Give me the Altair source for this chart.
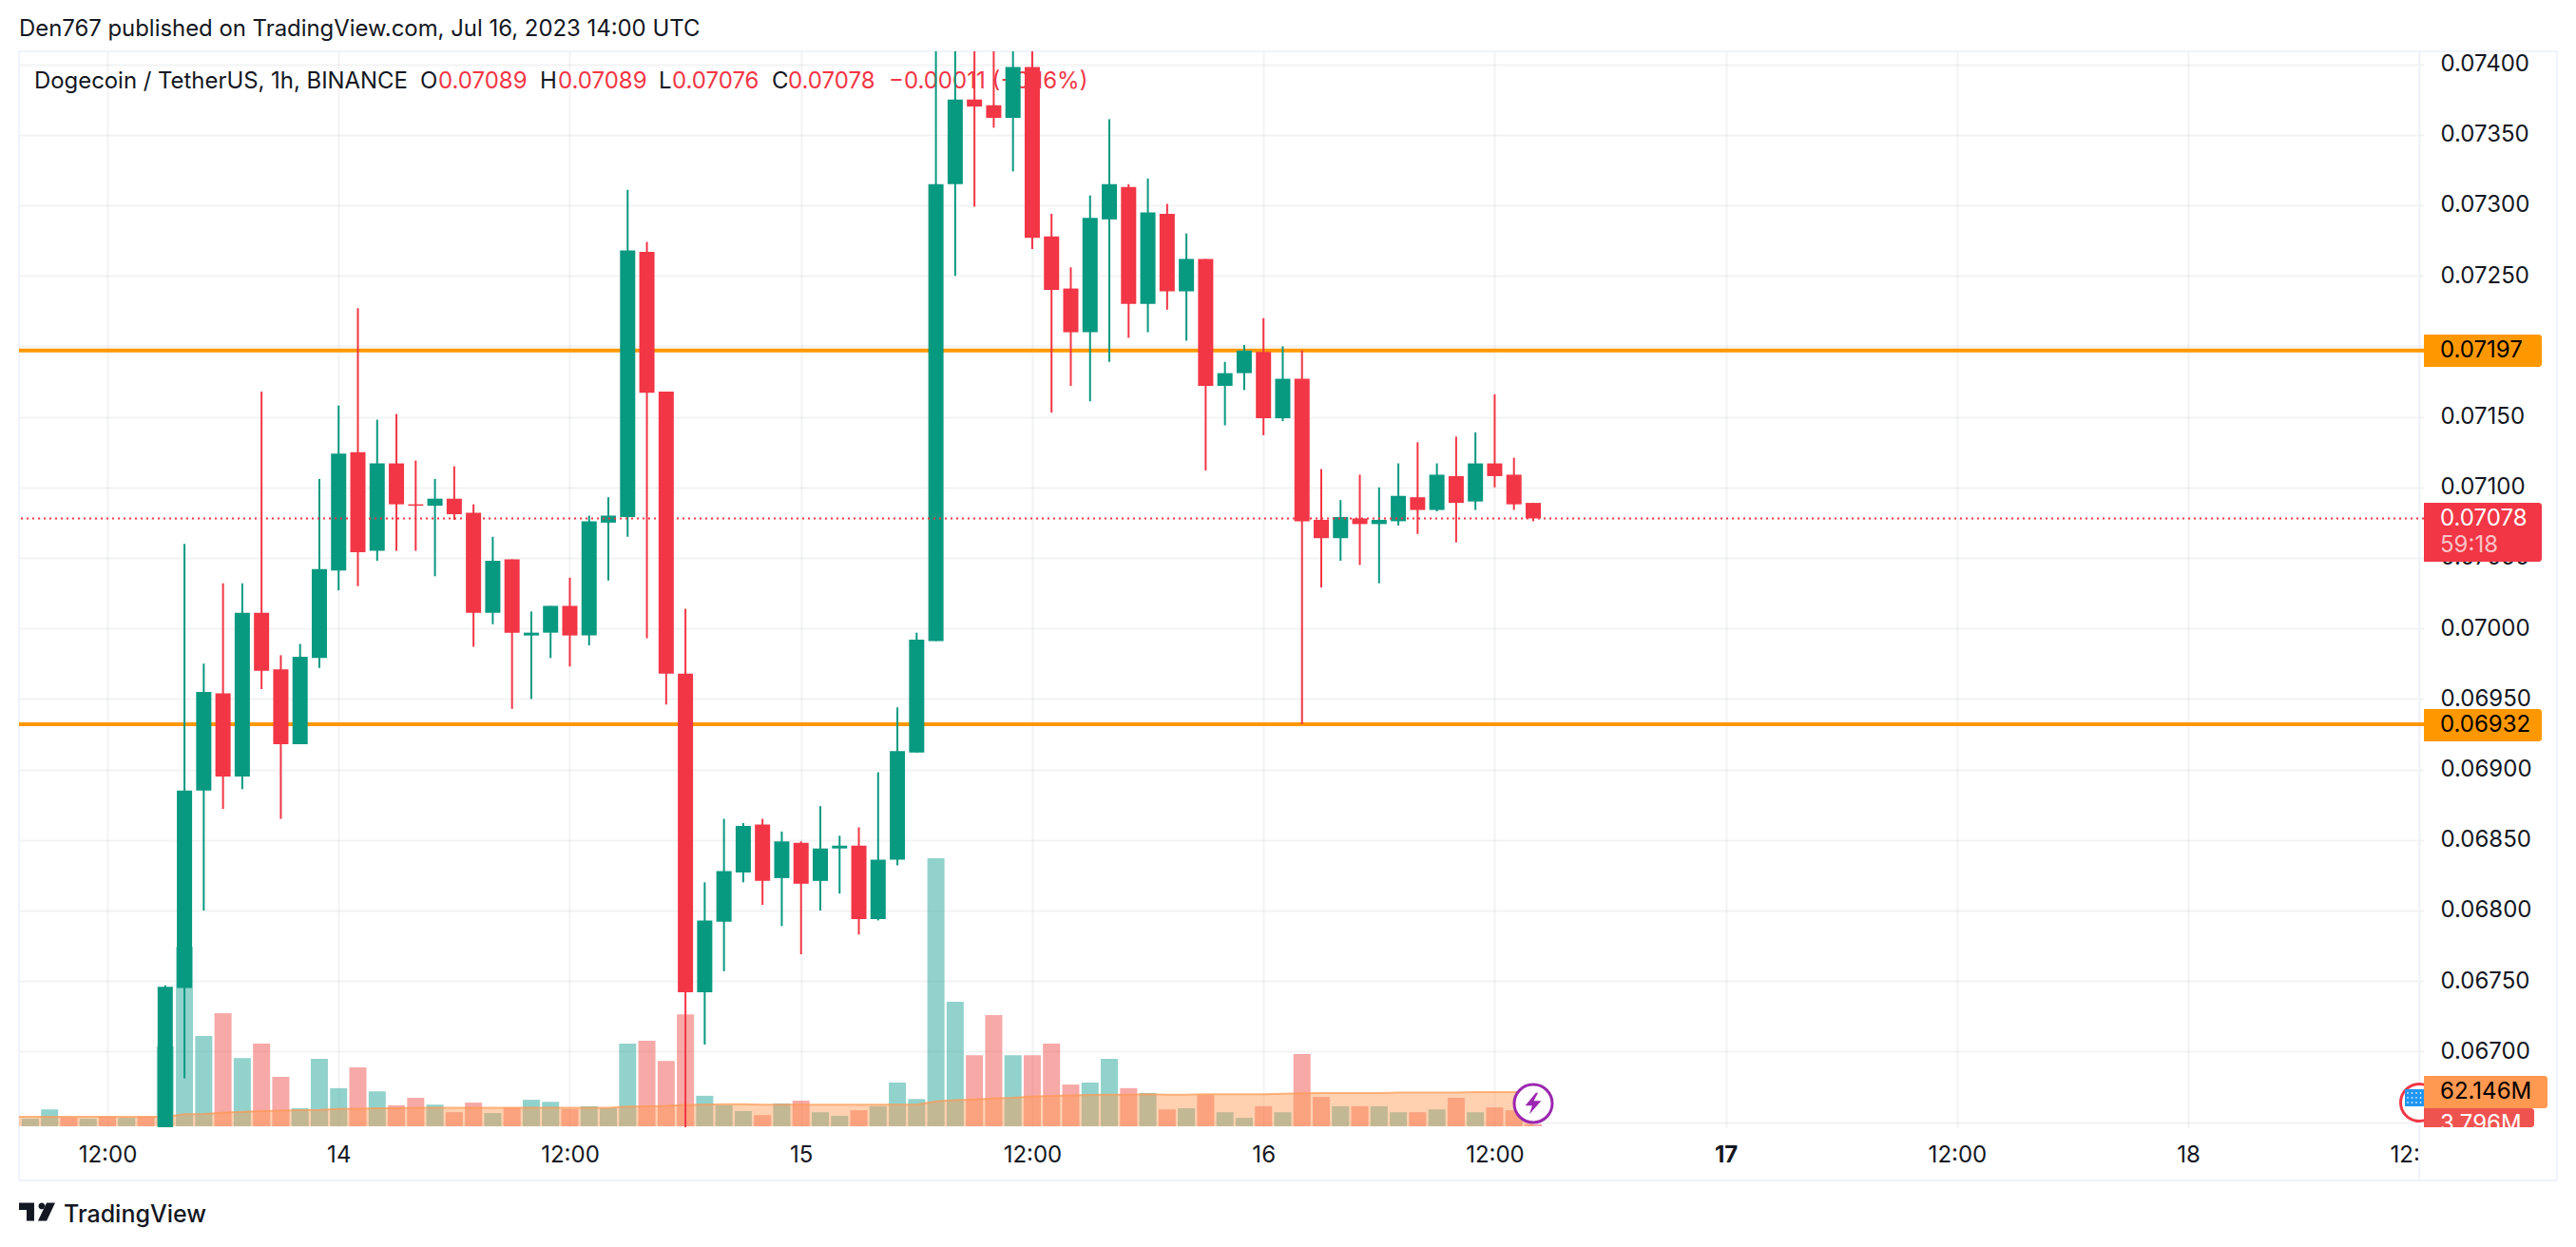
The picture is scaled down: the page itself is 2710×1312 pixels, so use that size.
import altair as alt
import pandas as pd

# ---- data ----------------------------------------------------------------
opens = [0.0655,0.06745,0.06885,0.06954,0.06895,0.07011,0.06971,0.06918,0.06979,0.07041,
         0.07125,0.07055,0.07117,0.07088,0.07087,0.07092,0.07082,0.07011,0.07049,0.06995,
         0.06997,0.07016,0.06995,0.07075,0.07079,0.07267,0.07168,0.06968,0.06742,0.06792,
         0.06827,0.06861,0.06823,0.06848,0.06821,0.06844,0.06846,0.06794,0.06836,0.06912,
         0.06991,0.07315,0.07375,0.07371,0.07362,0.07398,0.07278,0.07241,0.07210,0.07290,
         0.07313,0.07230,0.07294,0.07239,0.07262,0.07172,0.07181,0.07196,0.07149,0.07177,
         0.07077,0.07064,0.07078,0.07074,0.07076,0.07093,0.07084,0.07108,0.07090,0.07117,
         0.07109,0.07089]
highs = [0.06747,0.07060,0.06975,0.07032,0.07032,0.07168,0.06981,0.06989,0.07106,0.07158,
         0.07227,0.07148,0.07152,0.07119,0.07106,0.07115,0.07088,0.07065,0.07049,0.07012,
         0.07016,0.07036,0.07080,0.07093,0.07311,0.07274,0.07168,0.07014,0.06820,0.06865,
         0.06862,0.06865,0.06856,0.06849,0.06874,0.06853,0.06859,0.06898,0.06944,0.06997,
         0.07420,0.07420,0.07420,0.07420,0.07420,0.07420,0.07294,0.07256,0.07307,0.07361,
         0.07315,0.07319,0.07301,0.07280,0.07262,0.07189,0.07201,0.07220,0.07200,0.07197,
         0.07113,0.07091,0.07109,0.07100,0.07117,0.07132,0.07117,0.07136,0.07139,0.07166,
         0.07121,0.07089]
lows = [0.0655,0.06681,0.06800,0.06872,0.06886,0.06957,0.06865,0.06918,0.06972,0.07027,
        0.07030,0.07048,0.07055,0.07055,0.07037,0.07077,0.06987,0.07003,0.06943,0.06950,
        0.06979,0.06973,0.06988,0.07034,0.07065,0.06993,0.06946,0.06640,0.06705,0.06757,
        0.06820,0.06804,0.06789,0.06769,0.06800,0.06812,0.06783,0.06793,0.06832,0.06912,
        0.06991,0.07250,0.07299,0.07355,0.07324,0.07269,0.07153,0.07172,0.07161,0.07189,
        0.07206,0.07210,0.07226,0.07204,0.07112,0.07144,0.07169,0.07137,0.07147,0.06932,
        0.07029,0.07048,0.07045,0.07032,0.07073,0.07067,0.07083,0.07061,0.07084,0.07100,
        0.07084,0.07076]
closes = [0.06746,0.06885,0.06955,0.06895,0.07011,0.06970,0.06918,0.06980,0.07042,0.07124,
          0.07054,0.07117,0.07088,0.07087,0.07092,0.07081,0.07011,0.07048,0.06997,0.06997,
          0.07016,0.06995,0.07076,0.07080,0.07268,0.07167,0.06968,0.06742,0.06793,0.06828,
          0.06860,0.06821,0.06849,0.06819,0.06844,0.06846,0.06794,0.06836,0.06913,0.06992,
          0.07315,0.07375,0.07370,0.07362,0.07398,0.07277,0.07240,0.07210,0.07291,0.07315,
          0.07230,0.07295,0.07239,0.07262,0.07172,0.07181,0.07197,0.07149,0.07177,0.07076,
          0.07064,0.07079,0.07074,0.07077,0.07094,0.07084,0.07109,0.07089,0.07117,0.07108,
          0.07088,0.07078]
first_candle_hour = 3

volumes_m = [13.9,30.7,16.1,13.9,17.5,15.3,17.5,145.3,326.3,164.3,205.9,124.1,150.4,89.8,32.9,
             122.6,69.4,107.3,63.5,38.0,51.8,39.4,25.6,43.1,24.1,34.3,48.2,44.5,31.4,36.5,
             32.9,150.4,155.5,119.0,203.7,55.5,38.0,27.7,20.4,41.6,46.7,25.6,19.0,29.2,36.5,
             79.6,49.6,487.6,226.3,129.2,202.2,129.2,129.2,150.4,75.9,79.6,122.6,69.4,60.6,30.7,
             32.9,56.9,25.6,15.3,36.5,25.6,131.4,53.3,36.5,36.5,36.5,25.6,25.6,30.7,51.8,
             25.6,34.3,29.2,3.8]
first_volume_hour = -4
early_volume_dirs = ["up","up","down","up","down","up","down"]

ma_m = [17.5,17.5,17.5,17.5,17.5,17.5,17.5,17.5,17.5,21.9,22.6,24.8,26.3,27.7,28.5,29.2,29.9,31.4,
        32.1,32.9,32.9,33.6,33.6,33.6,33.6,33.6,33.6,33.6,33.6,33.6,33.6,33.6,35.8,36.5,37.2,38.7,
        39.4,40.2,40.2,39.4,39.4,39.4,39.4,39.4,39.4,39.4,39.4,39.4,45.3,47.5,48.9,50.4,51.8,54.0,
        55.5,56.2,56.9,57.7,57.7,58.4,57.7,57.7,58.4,58.4,58.4,58.4,59.1,59.9,60.6,60.6,60.6,60.6,
        61.3,61.3,61.3,61.3,62.1,62.1,62.1,62.146]
first_ma_hour = -5

levels = [0.07197, 0.06932]
last_price = [0.07078]
price_ticks = [0.0740,0.0735,0.0730,0.0725,0.0720,0.0715,0.0710,0.0705,0.0700,0.0695,0.0690,
               0.0685,0.0680,0.0675,0.0670,0.0665]

# ---- geometry -------------------------------------------------------------
W, H = 2530, 1132
T0 = pd.Timestamp("2023-07-13 12:00", tz="UTC")
MS_H = 3600000
t0ms = int(T0.timestamp() * 1000)
px_per_hour = 20.27
dom_start = t0ms + (20 - 113) / px_per_hour * MS_H
dom_end = t0ms + (2550 - 113) / px_per_hour * MS_H
last_tick = t0ms + 120 * MS_H
x_ticks = [t0ms + h * MS_H for h in range(0, 121, 12)]

P_TOP, P_BOT = 0.0740916, 0.0664636
V_LOW, V_TOP = -1.73, 1955.5


def tstr(h):
    return (T0 + pd.Timedelta(hours=h)).strftime("%Y-%m-%dT%H:%M:%SZ")


def tframe(n, first):
    return [tstr(first + k) for k in range(n)]


candles = pd.DataFrame({"t": tframe(len(opens), first_candle_hour),
                        "o": opens, "h": highs, "l": lows, "c": closes})
candles["dir"] = ["up" if c >= o else "down" for o, c in zip(opens, closes)]
vol = pd.DataFrame({"t": tframe(len(volumes_m), first_volume_hour), "v": volumes_m})
vol["dir"] = early_volume_dirs + list(candles["dir"])
ma = pd.DataFrame({"t": tframe(len(ma_m), first_ma_hour), "m": ma_m})

x_scale = alt.Scale(type="utc", domain=[dom_start, dom_end], padding=0)
y_price = alt.Scale(domain=[P_BOT, P_TOP], nice=False, zero=False)
y_vol = alt.Scale(domain=[V_LOW, V_TOP], nice=False, zero=False)

FONT = "Inter"
INK = "#131722"
RED = "#f23645"
GREEN = "#089981"
ORANGE = "#ff9800"
MA_COL = "#ff9850"
BORDER = "#f0f3fa"

x_axis = alt.Axis(
    values=x_ticks, title=None, domain=False, ticks=False, labelFont=FONT, labelFontSize=24,
    labelColor=INK, labelPadding=17, labelOverlap=False, labelBound=False, labelFlush=False,
    gridColor="#2a2e39", gridOpacity=0.06, gridWidth=2, grid=True,
    labelExpr=f"datum.value >= {last_tick} ? '12:' : utcFormat(datum.value,'%H')=='12' ? '12:00' : utcFormat(datum.value,'%-d')",
    labelAlign={"expr": f"datum.value >= {last_tick} ? 'right' : 'center'"},
    labelFontWeight={"expr": "utcFormat(datum.value,'%d %H')=='17 00' ? 700 : 400"})
X = alt.X("t:T", scale=x_scale, axis=x_axis)

one = pd.DataFrame({"a": [0]})


def label(txt, x, y, size=24, color=INK, weight=400):
    return alt.Chart(one).mark_text(text=txt, font=FONT, fontSize=size, color=color, align="left",
                                    baseline="middle", fontWeight=weight).encode(
        x=alt.value(x), y=alt.value(y))


def box(x, x2, y, y2, color, round_=True):
    kw = {"cornerRadiusTopRight": 3, "cornerRadiusBottomRight": 3} if round_ else {}
    return alt.Chart(one).mark_rect(color=color, **kw).encode(
        x=alt.value(x), x2=alt.value(x2), y=alt.value(y), y2=alt.value(y2))


def border(x, x2, y, y2):
    return alt.Chart(one).mark_rule(color=BORDER, strokeWidth=2).encode(
        x=alt.value(x), x2=alt.value(x2), y=alt.value(y), y2=alt.value(y2))


# grid + axes
grid = alt.Chart(pd.DataFrame({"t": [tstr(0)], "p": [0.07]})).mark_point(opacity=0).encode(
    x=X,
    y=alt.Y("p:Q", scale=y_price, axis=alt.Axis(
        values=price_ticks, title=None, orient="right", domain=False, ticks=False, labelFont=FONT,
        labelFontSize=24, labelColor=INK, labelPadding=17, labelOverlap=False, labelBound=False,
        labelFlush=False, gridColor="#2a2e39", gridOpacity=0.06, gridWidth=2,
        labelExpr="datum.value < 0.0666 || abs(datum.value - 0.072) < 0.000001 ? '' : format(datum.value,'.5f')")),
)

frame = [border(0, 2670, 0, 0), border(0, 2670, 1188, 1188), border(0, 0, 0, 1188),
         border(2670, 2670, 0, 1188), border(2525, 2525, 0, 1188)]

# header / legend text
texts = [
    label("Den767 published on TradingView.com, Jul 16, 2023 14:00 UTC", 0, -23, size=23.9),
    label("Dogecoin / TetherUS, 1h, BINANCE", 16, 32, size=23.9),
    label("O", 422, 32), label("0.07089", 441, 32, color=RED),
    label("H", 548, 32), label("0.07089", 567, 32, color=RED),
    label("L", 673, 32), label("0.07076", 687, 32, color=RED),
    label("C", 792, 32), label("0.07078", 809, 32, color=RED),
    label("\u22120.00011 (\u22120.16%)", 915, 32, color=RED),
]

vol_bars = alt.Chart(vol).mark_bar(size=18, clip=True, opacity=0.5).encode(
    x=X, y=alt.Y("v:Q", scale=y_vol, axis=None),
    color=alt.Color("dir:N", scale=alt.Scale(domain=["up", "down"], range=["#26a69a", "#ef5350"]), legend=None))
ma_area = alt.Chart(ma).mark_area(color=MA_COL, opacity=0.45, clip=True).encode(
    x=X, y=alt.Y("m:Q", scale=y_vol, axis=None))
ma_line = alt.Chart(ma).mark_line(color=MA_COL, strokeWidth=2, opacity=0.7, clip=True).encode(
    x=X, y=alt.Y("m:Q", scale=y_vol, axis=None))

level_rules = alt.Chart(pd.DataFrame({"p": levels})).mark_rule(color=ORANGE, strokeWidth=4).encode(
    y=alt.Y("p:Q", scale=y_price, axis=None))

candle_col = alt.Color("dir:N", scale=alt.Scale(domain=["up", "down"], range=[GREEN, RED]), legend=None)
wicks = alt.Chart(candles).mark_rule(strokeWidth=2, clip=True).encode(
    x=X, y=alt.Y("l:Q", scale=y_price, axis=None), y2="h:Q", color=candle_col)
bodies = alt.Chart(candles).mark_bar(size=16, clip=True).encode(
    x=X, y=alt.Y("o:Q", scale=y_price, axis=None), y2="c:Q", color=candle_col)

last_rule = alt.Chart(pd.DataFrame({"p": last_price})).mark_rule(color=RED, strokeWidth=2, strokeDash=[2, 4]).encode(
    y=alt.Y("p:Q", scale=y_price, axis=None))

# icons
ev = pd.DataFrame({"t": [tstr(74)], "v": [41.5]})
ring = alt.Chart(ev).mark_point(shape="circle", filled=True, size=1600, fill="white", stroke="#9c27b0",
                                strokeWidth=3, opacity=1).encode(
    x=X, y=alt.Y("v:Q", scale=alt.Scale(domain=[V_LOW, V_TOP], nice=False, zero=False), axis=None))
BOLT = "M0.25,-1 L-0.75,0.2 L-0.1,0.2 L-0.35,1 L0.75,-0.25 L0.05,-0.25 L0.45,-1 Z"
bolt = alt.Chart(ev).mark_point(shape=BOLT, filled=True, size=500, fill="#9c27b0", opacity=1, strokeWidth=0).encode(
    x=X, y=alt.Y("v:Q", scale=alt.Scale(domain=[V_LOW, V_TOP], nice=False, zero=False), axis=None))

flag_ring = alt.Chart(one).mark_point(shape="circle", filled=True, size=1520, fill="white", stroke=RED,
                                      strokeWidth=3, opacity=1).encode(x=alt.value(2525), y=alt.value(1106))
flag_blue = box(2510, 2530, 1092, 1110, "#2196f3", round_=False)
star_path = " ".join(
    f"M{cx - 0.07:.2f},{cy - 0.07:.2f} h0.14 v0.14 h-0.14 Z"
    for cx in (-0.7, -0.25, 0.2, 0.65) for cy in (-0.5, 0.0, 0.5)
)
flag_stars = alt.Chart(one).mark_point(shape=star_path, filled=True, size=400, fill="white", opacity=1, strokeWidth=0).encode(
    x=alt.value(2520), y=alt.value(1101))

# price-scale tags
tags = [
    box(2530, 2654, 298, 332, ORANGE), label("0.07197", 2547, 315, color="#000000"),
    box(2530, 2654, 692, 726, ORANGE), label("0.06932", 2547, 709, color="#000000"),
    box(2530, 2654, 475, 537, RED), label("0.07078", 2547, 492, color="#ffffff"),
    label("59:18", 2547, 520, color="#fbc2c7"),
    box(2530, 2646, 1112, 1132, "#ef5350"), label("3.796M", 2547, 1129, color="#ffffff"),
    box(2530, 2662, 1132, 1150, "#ffffff", round_=False),
    box(2530, 2660, 1078, 1112, MA_COL), label("62.146M", 2547, 1095, color="#000000"),
]

logo_path = ("M-1,-0.5 H-0.16 V0.5 H-0.58 V-0.1 H-1 Z "
             "M0.08,-0.32 A0.18,0.18 0 1 0 0.44,-0.32 A0.18,0.18 0 1 0 0.08,-0.32 Z "
             "M0.53,-0.5 H1 L0.53,0.5 H0.05 Z")
logo = alt.Chart(one).mark_point(shape=logo_path, filled=True, size=1444, fill=INK, opacity=1, strokeWidth=0).encode(
    x=alt.value(19), y=alt.value(1221))
logo_text = label("TradingView", 47, 1224, size=25, weight=500)

chart = alt.layer(
    grid, *frame, *texts, vol_bars, ma_area, ma_line, level_rules, wicks, bodies, last_rule,
    ring, bolt, flag_ring, flag_blue, flag_stars, *tags, logo, logo_text,
).resolve_scale(y="independent", color="independent").properties(
    width=W, height=H,
    autosize=alt.AutoSizeParams(type="none"),
    padding={"left": 12, "top": 46, "right": 152, "bottom": 118},
    background="white",
).configure_view(stroke=None)

chart.save("out.html", embed_options={"renderer": "svg", "actions": False})
